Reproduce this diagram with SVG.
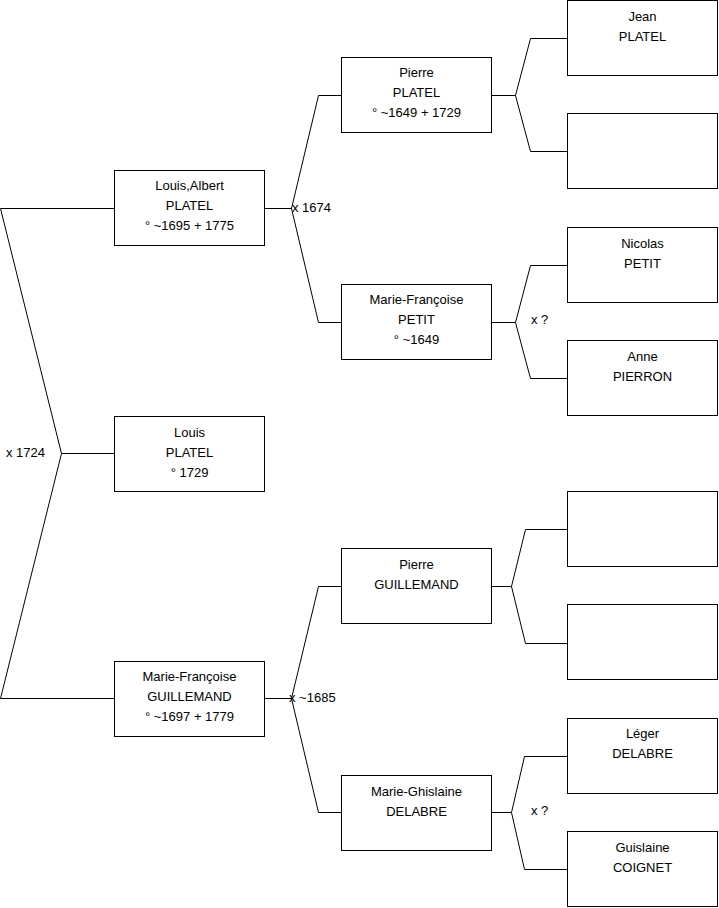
<svg xmlns="http://www.w3.org/2000/svg" width="719" height="908" viewBox="0 0 719 908">
<style>
.box{fill:#fff;stroke:#000;stroke-width:1}
.ln{fill:none;stroke:#000;stroke-width:1}
text{font-family:"Liberation Sans",Arial,sans-serif;font-size:13px;fill:#000}
.c{text-anchor:middle}
</style>
<rect width="719" height="908" fill="#fff"/>
<g id="connectors">
<path class="ln" d="M0.5,208.5H114.5M0.5,208.5L61.5,453.5L0.5,698.5H114.5M61.5,453.5H114.5"/>
<path class="ln" d="M265,208.5H291.5L318.5,95.5H341M291.5,208.5L318.5,322.5H341"/>
<path class="ln" d="M265,698.5H291.5L318.5,586.5H341M291.5,698.5L318.5,812.5H341"/>
<path class="ln" d="M492,95.5H515.5L530.5,38.5H567M515.5,95.5L530.5,151.5H567"/>
<path class="ln" d="M492,322.5H515.5L530.5,265.5H567M515.5,322.5L530.5,378.5H567"/>
<path class="ln" d="M492,586.5H511.5L525.5,529.5H567M511.5,586.5L525.5,643.5H567"/>
<path class="ln" d="M492,812.5H511.5L524.5,756.5H567M511.5,812.5L524.5,869.5H567"/>
<text x="6" y="457">x 1724</text>
<text x="292" y="212">x 1674</text>
<text x="289" y="702">x ~1685</text>
<text x="531" y="324">x ?</text>
<text x="531" y="815">x ?</text>
</g>
<g id="louis-albert"><rect class="box" x="114.5" y="170.5" width="150" height="75"/><text class="c" x="189.5" y="190">Louis,Albert</text><text class="c" x="189.5" y="210">PLATEL</text><text class="c" x="189.5" y="230">° ~1695 + 1775</text></g>
<g id="louis"><rect class="box" x="114.5" y="416.5" width="150" height="75"/><text class="c" x="189.5" y="437">Louis</text><text class="c" x="189.5" y="457">PLATEL</text><text class="c" x="189.5" y="477">° 1729</text></g>
<g id="mf-guillemand"><rect class="box" x="114.5" y="661.5" width="150" height="75"/><text class="c" x="189.5" y="681">Marie-Françoise</text><text class="c" x="189.5" y="701">GUILLEMAND</text><text class="c" x="189.5" y="721">° ~1697 + 1779</text></g>
<g id="pierre-platel"><rect class="box" x="341.5" y="57.5" width="150" height="75"/><text class="c" x="416.5" y="77">Pierre</text><text class="c" x="416.5" y="97">PLATEL</text><text class="c" x="416.5" y="117">° ~1649 + 1729</text></g>
<g id="mf-petit"><rect class="box" x="341.5" y="284.5" width="150" height="75"/><text class="c" x="416.5" y="304">Marie-Françoise</text><text class="c" x="416.5" y="324">PETIT</text><text class="c" x="416.5" y="344">° ~1649</text></g>
<g id="pierre-guillemand"><rect class="box" x="341.5" y="548.5" width="150" height="75"/><text class="c" x="416.5" y="569">Pierre</text><text class="c" x="416.5" y="589">GUILLEMAND</text></g>
<g id="mg-delabre"><rect class="box" x="341.5" y="775.5" width="150" height="75"/><text class="c" x="416.5" y="796">Marie-Ghislaine</text><text class="c" x="416.5" y="816">DELABRE</text></g>
<g id="jean-platel"><rect class="box" x="567.5" y="0.5" width="150" height="75"/><text class="c" x="642.5" y="21">Jean</text><text class="c" x="642.5" y="41">PLATEL</text></g>
<g id="empty-1"><rect class="box" x="567.5" y="113.5" width="150" height="75"/></g>
<g id="nicolas-petit"><rect class="box" x="567.5" y="227.5" width="150" height="75"/><text class="c" x="642.5" y="248">Nicolas</text><text class="c" x="642.5" y="268">PETIT</text></g>
<g id="anne-pierron"><rect class="box" x="567.5" y="340.5" width="150" height="75"/><text class="c" x="642.5" y="361">Anne</text><text class="c" x="642.5" y="381">PIERRON</text></g>
<g id="empty-2"><rect class="box" x="567.5" y="491.5" width="150" height="75"/></g>
<g id="empty-3"><rect class="box" x="567.5" y="604.5" width="150" height="75"/></g>
<g id="leger-delabre"><rect class="box" x="567.5" y="718.5" width="150" height="75"/><text class="c" x="642.5" y="738">Léger</text><text class="c" x="642.5" y="758">DELABRE</text></g>
<g id="guislaine-coignet"><rect class="box" x="567.5" y="831.5" width="150" height="75"/><text class="c" x="642.5" y="852">Guislaine</text><text class="c" x="642.5" y="872">COIGNET</text></g>
</svg>
